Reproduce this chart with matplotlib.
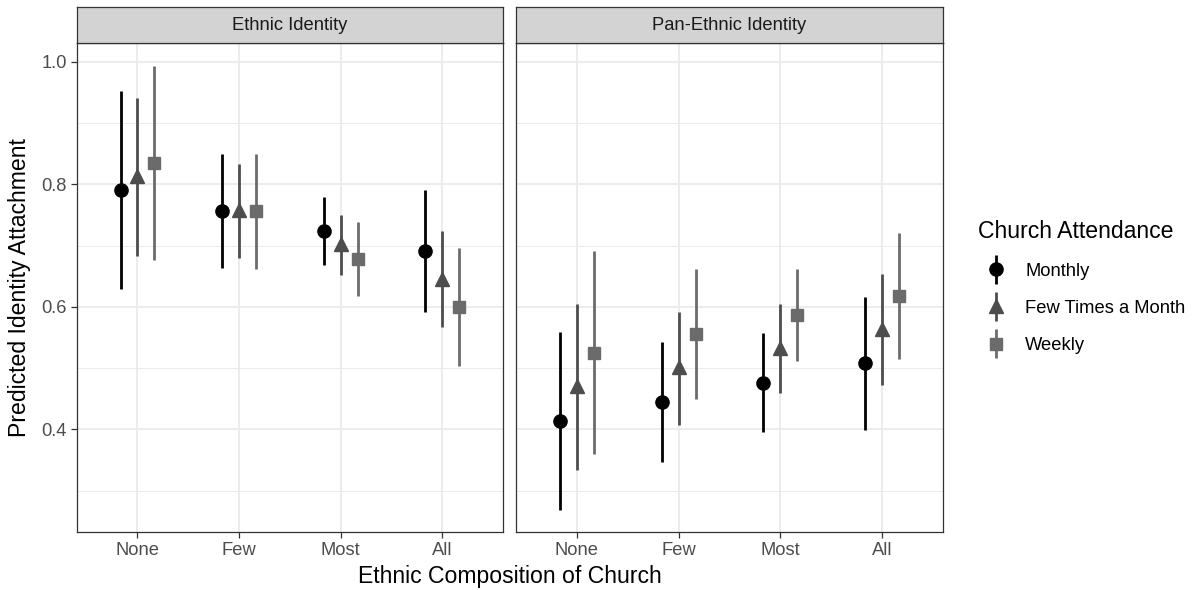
import numpy as np
import matplotlib
matplotlib.use("Agg")
import matplotlib.pyplot as plt
from matplotlib.legend_handler import HandlerErrorbar
from matplotlib.container import ErrorbarContainer

plt.rcParams['font.family'] = ['Liberation Sans', 'DejaVu Sans']

# data
categories = ["None", "Few", "Most", "All"]
panels = ["Ethnic Identity", "Pan-Ethnic Identity"]
groups = ["Monthly", "Few Times a Month", "Weekly"]

# Ethnic Identity: estimate, lower, upper  (per group, per category)
eth_est = {
    "Monthly":           [0.790, 0.757, 0.724, 0.691],
    "Few Times a Month": [0.814, 0.758, 0.702, 0.646],
    "Weekly":            [0.835, 0.756, 0.678, 0.600],
}
eth_lo = {
    "Monthly":           [0.629, 0.664, 0.668, 0.591],
    "Few Times a Month": [0.683, 0.680, 0.652, 0.567],
    "Weekly":            [0.676, 0.662, 0.618, 0.504],
}
eth_hi = {
    "Monthly":           [0.952, 0.850, 0.780, 0.790],
    "Few Times a Month": [0.941, 0.833, 0.750, 0.724],
    "Weekly":            [0.993, 0.850, 0.738, 0.696],
}

# Pan-Ethnic Identity
pan_est = {
    "Monthly":           [0.413, 0.444, 0.476, 0.508],
    "Few Times a Month": [0.470, 0.502, 0.533, 0.564],
    "Weekly":            [0.525, 0.556, 0.587, 0.618],
}
pan_lo = {
    "Monthly":           [0.268, 0.346, 0.395, 0.399],
    "Few Times a Month": [0.334, 0.407, 0.459, 0.472],
    "Weekly":            [0.359, 0.450, 0.512, 0.515],
}
pan_hi = {
    "Monthly":           [0.559, 0.543, 0.557, 0.616],
    "Few Times a Month": [0.604, 0.592, 0.604, 0.653],
    "Weekly":            [0.691, 0.662, 0.661, 0.721],
}

colors = {"Monthly": "#000000", "Few Times a Month": "#4D4D4D", "Weekly": "#6B6B6B"}
markers = {"Monthly": "o", "Few Times a Month": "^", "Weekly": "s"}
msizes = {"Monthly": 9.5, "Few Times a Month": 10.5, "Weekly": 8.5}
dodge = {"Monthly": -1/6, "Few Times a Month": 0.0, "Weekly": 1/6}

W, H = 1192, 590
fig = plt.figure(figsize=(W/100, H/100), dpi=100)

def fx(px): return px / W
def fy(py): return 1 - py / H

panel_left = [76.5, 516.0]
panel_w = 426.8
top_px, bot_px = 43.0, 532.0
strip_top = 7.0

data = [(eth_est, eth_lo, eth_hi), (pan_est, pan_lo, pan_hi)]
handles = []
xpos = np.arange(1, len(categories) + 1)

for i, (title, (est, lo, hi)) in enumerate(zip(panels, data)):
    ax = fig.add_axes([fx(panel_left[i]), fy(bot_px), fx(panel_w), (bot_px - top_px) / H])
    ax.set_xlim(0.4, 4.6)
    ax.set_ylim(0.2325, 1.0305)
    ax.set_yticks([0.4, 0.6, 0.8, 1.0])
    ax.set_yticks([0.3, 0.5, 0.7, 0.9], minor=True)
    ax.set_xticks(xpos)
    ax.set_xticklabels(categories)
    ax.grid(True, which='major', color='#EBEBEB', linewidth=1.3, zorder=0)
    ax.grid(True, which='minor', axis='y', color='#EBEBEB', linewidth=0.7, zorder=0)
    ax.set_axisbelow(True)
    for s in ax.spines.values():
        s.set_color('#333333')
        s.set_linewidth(0.9)
    ax.tick_params(axis='both', which='major', length=4, width=0.9, color='#333333',
                   labelsize=13.2, labelcolor='#4D4D4D', pad=3)
    ax.tick_params(axis='y', which='minor', length=0)
    if i == 0:
        ax.set_yticklabels(["0.4", "0.6", "0.8", "1.0"])
    else:
        ax.tick_params(axis='y', which='major', length=0, labelleft=False)

    for g in groups:
        x = xpos + dodge[g]
        y = np.array(est[g])
        yerr = np.vstack([y - np.array(lo[g]), np.array(hi[g]) - y])
        h = ax.errorbar(x, y, yerr=yerr, fmt=markers[g], color=colors[g],
                        ecolor=colors[g], elinewidth=2.0, markersize=msizes[g],
                        capsize=0, zorder=3, label=g)
        if i == 0:
            handles.append(h)

    # facet strip
    strip = fig.add_axes([fx(panel_left[i]), fy(top_px), fx(panel_w), (top_px - strip_top) / H])
    strip.set_xticks([])
    strip.set_yticks([])
    strip.set_facecolor('#D3D3D3')
    for s in strip.spines.values():
        s.set_color('#333333')
        s.set_linewidth(0.9)
    strip.text(0.5, 0.5, title, ha='center', va='center', fontsize=13.2,
               color='#1A1A1A', transform=strip.transAxes)

fig.text(fx(20), fy((top_px + bot_px) / 2), "Predicted Identity Attachment",
         rotation=90, ha='center', va='center', fontsize=16.6)
fig.text(fx((panel_left[0] + panel_left[1] + panel_w) / 2), fy(577),
         "Ethnic Composition of Church", ha='center', va='center', fontsize=16.6)

leg = fig.legend(handles=handles, labels=groups, title="Church Attendance",
                 loc='upper left', bbox_to_anchor=(fx(961), fy(203)), frameon=False,
                 fontsize=13.2, title_fontsize=16.6, alignment='left',
                 handlelength=2.0, handletextpad=0.6, labelspacing=1.1,
                 handler_map={ErrorbarContainer: HandlerErrorbar(yerr_size=0.8)})

fig.savefig("out.png", dpi=100)
